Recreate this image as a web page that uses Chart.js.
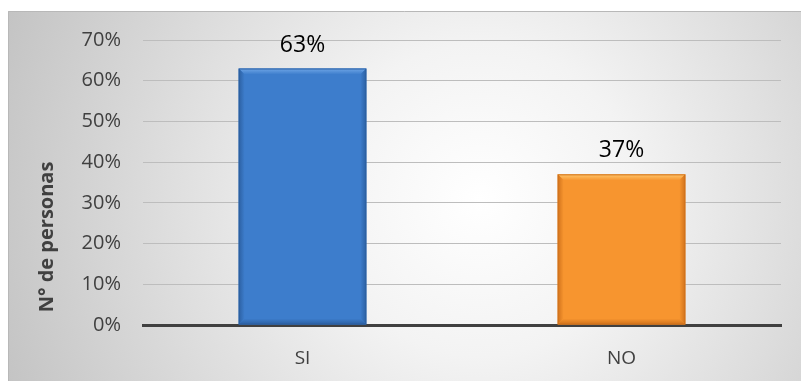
<!DOCTYPE html>
<html lang="es">
<head>
    <meta charset="UTF-8">
    <title>N° de personas</title>
    <script src="https://cdn.jsdelivr.net/npm/chart.js@4.4.1/dist/chart.umd.min.js"></script>
    <style>
        html, body { margin: 0; padding: 0; background: #fff; }
        #wrap { width: 801px; height: 381px; }
    </style>
</head>
<body>
    <div id="wrap"><canvas id="chart" width="801" height="381"></canvas></div>

    <script>
        // data
        const categories = ['SI', 'NO'];
        const values = [0.63, 0.37];
        const yTitle = 'N° de personas';
        const barColors = ['#3d7dcc', '#f7952f'];
        const bevelLight = ['#6fa6e6', '#ffc76c'];
        const bevelDark = ['#2c60a2', '#d0721c'];

        const pct = v => Math.round(v * 100) + '%';

        // gray radial background with a thin frame on top and left
        const backgroundPlugin = {
            id: 'bg',
            beforeDraw(chart) {
                const ctx = chart.ctx;
                const w = chart.width, h = chart.height;
                ctx.save();
                ctx.fillStyle = '#fff';
                ctx.fillRect(0, 0, w, h);
                const g = ctx.createRadialGradient(480, 200, 0, 480, 200, 520);
                g.addColorStop(0, '#ffffff');
                g.addColorStop(0.3, '#f3f3f3');
                g.addColorStop(1, '#c2c2c2');
                ctx.fillStyle = g;
                ctx.fillRect(8, 11, w - 8, h - 11);
                ctx.strokeStyle = '#b8b8b8';
                ctx.lineWidth = 1;
                ctx.beginPath();
                ctx.moveTo(8.5, h);
                ctx.lineTo(8.5, 11.5);
                ctx.lineTo(w, 11.5);
                ctx.stroke();
                ctx.restore();
            },
            // axis title sits lower than the plot centre, as in the original
            afterDraw(chart) {
                const ctx = chart.ctx;
                ctx.save();
                ctx.translate(47, 237);
                ctx.rotate(-Math.PI / 2);
                ctx.fillStyle = '#404040';
                ctx.font = 'bold 20px "Open Sans"';
                ctx.textAlign = 'center';
                ctx.textBaseline = 'middle';
                ctx.fillText(yTitle, 0, 0);
                ctx.restore();
            }
        };

        // bevel edges and value labels on top of the bars
        const bevelPlugin = {
            id: 'bevel',
            afterDatasetsDraw(chart) {
                const ctx = chart.ctx;
                const meta = chart.getDatasetMeta(0);
                meta.data.forEach((bar, i) => {
                    const l = bar.x - bar.width / 2, r = bar.x + bar.width / 2;
                    const t = bar.y, b = bar.base;
                    const s = 6;
                    ctx.save();
                    // top bevel
                    let g = ctx.createLinearGradient(0, t, 0, t + s);
                    g.addColorStop(0, bevelLight[i]);
                    g.addColorStop(1, barColors[i]);
                    ctx.fillStyle = g;
                    ctx.beginPath();
                    ctx.moveTo(l, t); ctx.lineTo(r, t); ctx.lineTo(r - s, t + s); ctx.lineTo(l + s, t + s);
                    ctx.closePath(); ctx.fill();
                    // left / right bevel
                    g = ctx.createLinearGradient(l, 0, l + s, 0);
                    g.addColorStop(0, bevelDark[i]);
                    g.addColorStop(1, barColors[i]);
                    ctx.fillStyle = g;
                    ctx.beginPath();
                    ctx.moveTo(l, t); ctx.lineTo(l + s, t + s); ctx.lineTo(l + s, b - s); ctx.lineTo(l, b);
                    ctx.closePath(); ctx.fill();
                    g = ctx.createLinearGradient(r, 0, r - s, 0);
                    g.addColorStop(0, bevelDark[i]);
                    g.addColorStop(1, barColors[i]);
                    ctx.fillStyle = g;
                    ctx.beginPath();
                    ctx.moveTo(r, t); ctx.lineTo(r - s, t + s); ctx.lineTo(r - s, b - s); ctx.lineTo(r, b);
                    ctx.closePath(); ctx.fill();
                    // bottom bevel
                    g = ctx.createLinearGradient(0, b, 0, b - s);
                    g.addColorStop(0, bevelDark[i]);
                    g.addColorStop(1, barColors[i]);
                    ctx.fillStyle = g;
                    ctx.beginPath();
                    ctx.moveTo(l, b); ctx.lineTo(r, b); ctx.lineTo(r - s, b - s); ctx.lineTo(l + s, b - s);
                    ctx.closePath(); ctx.fill();
                    // outline
                    ctx.strokeStyle = bevelDark[i];
                    ctx.lineWidth = 1;
                    ctx.strokeRect(l + 0.5, t + 0.5, r - l - 1, b - t - 1);
                    // label
                    ctx.fillStyle = '#000';
                    ctx.font = '23px "Open Sans"';
                    ctx.textAlign = 'center';
                    ctx.textBaseline = 'alphabetic';
                    ctx.fillText(pct(values[i]), bar.x, t - 17);
                    ctx.restore();
                });
            }
        };

        new Chart(document.getElementById('chart'), {
            type: 'bar',
            data: {
                labels: categories,
                datasets: [{
                    data: values,
                    backgroundColor: barColors,
                    borderWidth: 0,
                    categoryPercentage: 1,
                    barPercentage: 0.4
                }]
            },
            options: {
                responsive: false,
                animation: false,
                events: [],
                layout: { padding: { left: 8, right: 20, top: 40, bottom: 0 } },
                plugins: {
                    legend: { display: false },
                    tooltip: { enabled: false }
                },
                scales: {
                    x: {
                        grid: { display: false },
                        border: { display: true, color: '#404040', width: 3 },
                        ticks: {
                            color: '#404040',
                            font: { family: 'Open Sans', size: 19 },
                            padding: 14
                        },
                        afterFit: s => { s.height = 56; }
                    },
                    y: {
                        min: 0,
                        max: 0.7,
                        afterFit: s => { s.width = 135; },
                        grid: { color: '#bdbdbd', lineWidth: 1, drawTicks: false },
                        border: { display: false },
                        ticks: {
                            stepSize: 0.1,
                            color: '#404040',
                            font: { family: 'Open Sans', size: 20 },
                            padding: 22,
                            callback: v => pct(v)
                        }
                    }
                }
            },
            plugins: [backgroundPlugin, bevelPlugin]
        });
    </script>
</body>
</html>
